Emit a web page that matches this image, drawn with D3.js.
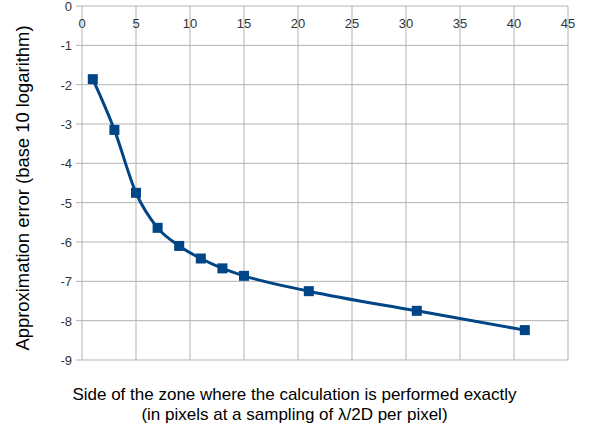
<!DOCTYPE html>
<html>
<head>
<meta charset="utf-8">
<script src="https://cdn.jsdelivr.net/npm/d3@7"></script>
<style>
body { margin: 0; background: #fff; }
</style>
</head>
<body>
<div id="graph"></div>
<script>
var sides = [1, 3, 5, 7, 9, 11, 13, 15, 21, 31, 41];
var logErrors = [-1.86, -3.15, -4.75, -5.64, -6.10, -6.42, -6.67, -6.86, -7.25, -7.75, -8.24];
var xTicks = [0, 5, 10, 15, 20, 25, 30, 35, 40, 45];
var yTicks = [0, -1, -2, -3, -4, -5, -6, -7, -8, -9];

var width = 590, height = 432;
var font = "'Liberation Sans', Arial, sans-serif";

var svg = d3.select("#graph")
    .append("svg")
    .attr("width", width)
    .attr("height", height);

var x = d3.scaleLinear().domain([0, 45]).range([82, 568]);
var y = d3.scaleLinear().domain([0, -9]).range([6, 360]);

// grid
svg.append("g")
    .selectAll("line")
    .data(xTicks)
    .enter()
    .append("line")
    .attr("x1", function(d) { return x(d); })
    .attr("x2", function(d) { return x(d); })
    .attr("y1", y(0))
    .attr("y2", y(-9))
    .attr("stroke", "#b3b3b3")
    .attr("stroke-width", 1);

svg.append("g")
    .selectAll("line")
    .data(yTicks)
    .enter()
    .append("line")
    .attr("x1", x(0) - 6)
    .attr("x2", x(45))
    .attr("y1", function(d) { return y(d); })
    .attr("y2", function(d) { return y(d); })
    .attr("stroke", "#b3b3b3")
    .attr("stroke-width", 1);

// tick labels
svg.append("g")
    .selectAll("text")
    .data(xTicks)
    .enter()
    .append("text")
    .attr("x", function(d) { return x(d); })
    .attr("y", 28)
    .attr("text-anchor", "middle")
    .attr("font-family", font)
    .attr("font-size", 13)
    .attr("fill", "#333")
    .text(function(d) { return d; });

svg.append("g")
    .selectAll("text")
    .data(yTicks)
    .enter()
    .append("text")
    .attr("x", 72)
    .attr("y", function(d) { return y(d) + 5; })
    .attr("text-anchor", "end")
    .attr("font-family", font)
    .attr("font-size", 13)
    .attr("fill", "#333")
    .text(function(d) { return d; });

// series
var pts = sides.map(function(s, i) { return [s, logErrors[i]]; });

var line = d3.line()
    .x(function(d) { return x(d[0]); })
    .y(function(d) { return y(d[1]); })
    .curve(d3.curveMonotoneX);

svg.append("path")
    .datum(pts)
    .attr("d", line)
    .attr("fill", "none")
    .attr("stroke", "#004586")
    .attr("stroke-width", 3);

svg.append("g")
    .selectAll("rect")
    .data(pts)
    .enter()
    .append("rect")
    .attr("x", function(d) { return x(d[0]) - 5; })
    .attr("y", function(d) { return y(d[1]) - 5; })
    .attr("width", 10)
    .attr("height", 10)
    .attr("fill", "#004586");

// axis titles
svg.append("text")
    .attr("transform", "translate(28.5,188) rotate(-90)")
    .attr("text-anchor", "middle")
    .attr("font-family", font)
    .attr("font-size", 18.4)
    .attr("fill", "#000")
    .text("Approximation error (base 10 logarithm)");

svg.append("text")
    .attr("x", 294.5)
    .attr("y", 400)
    .attr("text-anchor", "middle")
    .attr("font-family", font)
    .attr("font-size", 17)
    .attr("fill", "#000")
    .text("Side of the zone where the calculation is performed exactly");

svg.append("text")
    .attr("x", 294.5)
    .attr("y", 420)
    .attr("text-anchor", "middle")
    .attr("font-family", font)
    .attr("font-size", 17)
    .attr("fill", "#000")
    .text("(in pixels at a sampling of \u03bb/2D per pixel)");
</script>
</body>
</html>
